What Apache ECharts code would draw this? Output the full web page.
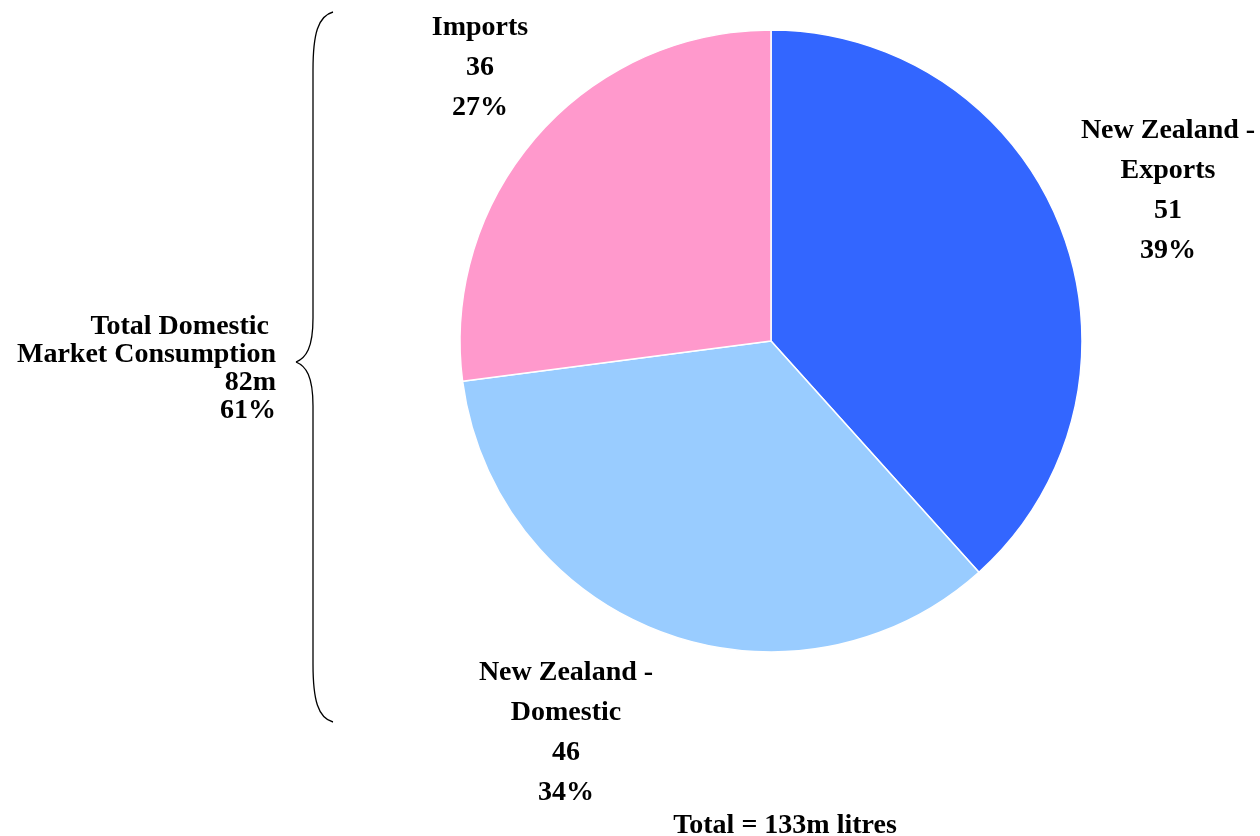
<!DOCTYPE html>
<html>
<head>
<meta charset="utf-8">
<style>
  html, body { margin: 0; padding: 0; background: #fff; }
  #chart { width: 1260px; height: 836px; }
</style>
<script src="https://cdn.jsdelivr.net/npm/echarts@6/dist/echarts.min.js"></script>
</head>
<body>
<div id="chart"></div>
<script>
// Wine volumes by source (million litres)
const categories = ['New Zealand -\nExports', 'New Zealand -\nDomestic', 'Imports'];
const volumes = [51, 46, 36];
const shareLabels = ['39%', '34%', '27%'];
const colors = ['#3366FF', '#99CCFF', '#FF99CC'];

const domesticTitle = ['Total Domestic ', 'Market Consumption', '82m', '61%'];
const totalText = 'Total = 133m litres';

// label anchor points (centre of each label block)
const labelAnchors = [
  { x: 1168, y: 191 },
  { x: 566, y: 733 },
  { x: 480, y: 68 }
];

const FONT = '"Liberation Serif", "Times New Roman", serif';
const braceStyle = { fill: 'none', stroke: '#000', lineWidth: 1.3 };

// curly brace grouping the two domestic-market slices
const braceParts = [
  { type: 'bezierCurve', shape: { x1: 333, y1: 12, cpx1: 318, cpy1: 16, cpx2: 313, cpy2: 34, x2: 313, y2: 70 } },
  { type: 'line', shape: { x1: 313, y1: 70, x2: 313, y2: 318 } },
  { type: 'bezierCurve', shape: { x1: 313, y1: 318, cpx1: 313, cpy1: 348, cpx2: 306, cpy2: 358, x2: 296, y2: 362 } },
  { type: 'bezierCurve', shape: { x1: 296, y1: 362, cpx1: 306, cpy1: 366, cpx2: 313, cpy2: 376, x2: 313, y2: 406 } },
  { type: 'line', shape: { x1: 313, y1: 406, x2: 313, y2: 664 } },
  { type: 'bezierCurve', shape: { x1: 313, y1: 664, cpx1: 313, cpy1: 700, cpx2: 318, cpy2: 718, x2: 333, y2: 722 } }
].map(p => Object.assign(p, { style: braceStyle }));

const chart = echarts.init(document.getElementById('chart'));

chart.setOption({
  backgroundColor: '#ffffff',
  animation: false,
  series: [{
    type: 'pie',
    center: [771, 341],
    radius: [0, 311],
    startAngle: 90,
    clockwise: true,
    avoidLabelOverlap: false,
    itemStyle: { borderColor: '#ffffff', borderWidth: 1.5 },
    label: {
      show: true,
      position: 'outside',
      color: '#000',
      fontFamily: FONT,
      fontWeight: 'bold',
      fontSize: 28,
      lineHeight: 40,
      align: 'center',
      formatter: p => p.name + '\n' + p.value + '\n' + shareLabels[p.dataIndex]
    },
    labelLine: { show: false },
    labelLayout: p => ({
      x: labelAnchors[p.dataIndex].x,
      y: labelAnchors[p.dataIndex].y,
      align: 'center',
      verticalAlign: 'middle'
    }),
    data: categories.map((c, i) => ({
      name: c,
      value: volumes[i],
      itemStyle: { color: colors[i] }
    }))
  }],
  graphic: braceParts.concat([
    {
      type: 'text',
      x: 276,
      y: 369,
      style: {
        text: domesticTitle.join('\n'),
        fill: '#000',
        font: 'bold 28px ' + FONT,
        lineHeight: 28,
        align: 'right',
        verticalAlign: 'middle'
      }
    },
    {
      type: 'text',
      x: 785,
      y: 826,
      style: {
        text: totalText,
        fill: '#000',
        font: 'bold 28px ' + FONT,
        align: 'center',
        verticalAlign: 'middle'
      }
    }
  ])
});
</script>
</body>
</html>
